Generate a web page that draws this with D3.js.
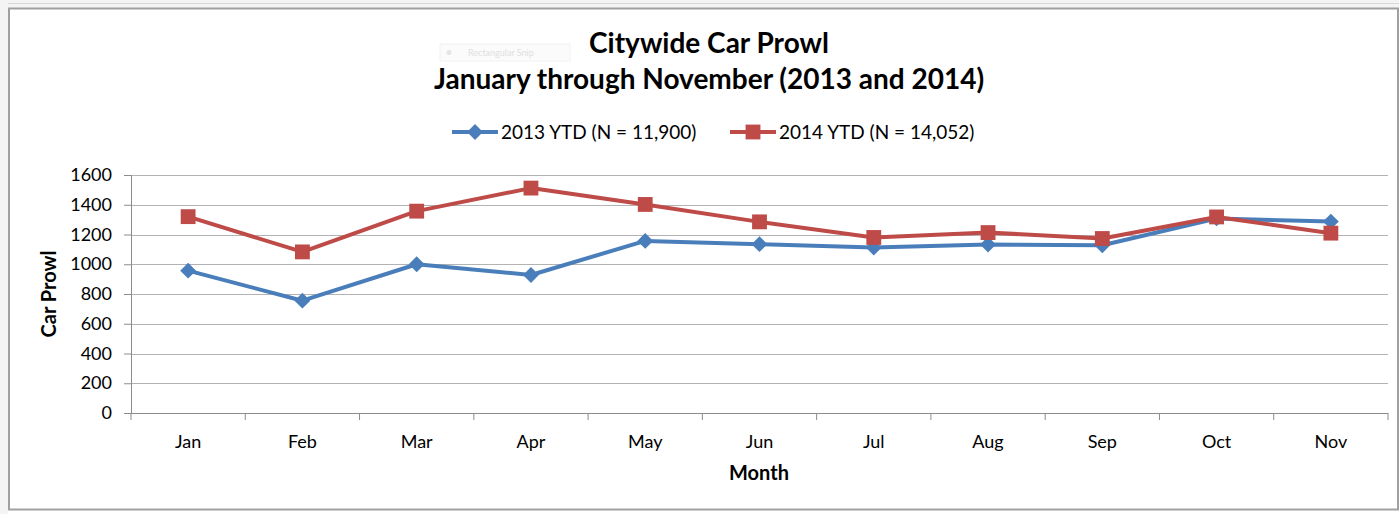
<!DOCTYPE html>
<html>
<head>
<meta charset="utf-8">
<script src="https://cdn.jsdelivr.net/npm/d3@7"></script>
<style>
  body { margin: 0; background: #fff; }
  svg { display: block; font-family: Lato, "Open Sans", sans-serif; }
</style>
</head>
<body>
<svg id="chart"></svg>
<script>
const months = ['Jan', 'Feb', 'Mar', 'Apr', 'May', 'Jun', 'Jul', 'Aug', 'Sep', 'Oct', 'Nov'];
const ytd2013 = [957, 755, 1000, 928, 1157, 1135, 1112, 1133, 1128, 1308, 1287];
const ytd2014 = [1320, 1083, 1357, 1512, 1402, 1285, 1180, 1213, 1173, 1318, 1209];
const yTicks = [0, 200, 400, 600, 800, 1000, 1200, 1400, 1600];
const seriesNames = ['2013 YTD (N = 11,900)', '2014 YTD (N = 14,052)'];

const width = 1399, height = 514;
const margin = { top: 175, right: 11, bottom: 101, left: 131 };
const innerWidth = width - margin.left - margin.right;
const innerHeight = height - margin.top - margin.bottom;

const svg = d3.select('#chart').attr('width', width).attr('height', height);

// excel sheet remnants + chart frame
svg.append('rect').attr('x', 0).attr('y', 0).attr('width', width).attr('height', 8).attr('fill', '#f4f4f4');
svg.append('line').attr('x1', 0).attr('x2', width).attr('y1', 3.5).attr('y2', 3.5).attr('stroke', '#d8d8d8');
svg.append('rect').attr('x', 0).attr('y', 0).attr('width', 8).attr('height', height).attr('fill', '#f4f4f4');
svg.append('rect')
  .attr('x', 9).attr('y', 8.5).attr('width', width - 10).attr('height', 501)
  .attr('fill', '#fff').attr('stroke', '#a0a0a0').attr('stroke-width', 2);

// faint snip tool ghost
svg.append('rect').attr('x', 440).attr('y', 44).attr('width', 130).attr('height', 17)
  .attr('fill', '#fbfbfb').attr('stroke', '#f2f2f2');
svg.append('circle').attr('cx', 449).attr('cy', 52.5).attr('r', 2.5).attr('fill', '#e4e4e4');
svg.append('text').attr('x', 468).attr('y', 56).attr('font-size', 9).attr('fill', '#e0e0e0').text('Rectangular Snip');

// titles
svg.append('text').attr('x', 709).attr('y', 53).attr('text-anchor', 'middle')
  .attr('font-size', 28).attr('font-weight', 'bold').attr('fill', '#000').text('Citywide Car Prowl');
svg.append('text').attr('x', 709).attr('y', 89).attr('text-anchor', 'middle')
  .attr('font-size', 28).attr('font-weight', 'bold').attr('fill', '#000').text('January through November (2013 and 2014)');

const x = d3.scaleBand().domain(months).range([margin.left, margin.left + innerWidth]);
const y = d3.scaleLinear().domain([0, 1600]).range([margin.top + innerHeight, margin.top]);

// gridlines
svg.append('g').selectAll('line').data(yTicks.filter(d => d > 0)).enter().append('line')
  .attr('x1', margin.left).attr('x2', margin.left + innerWidth)
  .attr('y1', d => Math.round(y(d)) + 0.5).attr('y2', d => Math.round(y(d)) + 0.5)
  .attr('stroke', '#b3b3b3').attr('stroke-width', 1.2);

// y axis: lines from d3 axis, labels drawn separately
const yAxis = svg.append('g').attr('transform', `translate(${margin.left},0)`)
  .call(d3.axisLeft(y).tickValues(yTicks).tickSize(7));
yAxis.selectAll('text').remove();
yAxis.selectAll('line, path').attr('stroke', '#8c8c8c');
svg.append('g').selectAll('text').data(yTicks).enter().append('text')
  .attr('x', margin.left - 19).attr('y', d => y(d) + 6)
  .attr('text-anchor', 'end').attr('font-size', 18).attr('fill', '#000')
  .text(d3.format('d'));

// x axis (ticks at category boundaries)
const xBase = margin.top + innerHeight;
svg.append('line').attr('x1', margin.left).attr('x2', margin.left + innerWidth)
  .attr('y1', xBase + 0.5).attr('y2', xBase + 0.5).attr('stroke', '#8c8c8c');
svg.append('g').selectAll('line').data(d3.range(months.length + 1)).enter().append('line')
  .attr('x1', i => margin.left + i * x.step()).attr('x2', i => margin.left + i * x.step())
  .attr('y1', xBase).attr('y2', xBase + 7).attr('stroke', '#8c8c8c');
svg.append('g').selectAll('text').data(months).enter().append('text')
  .attr('x', d => x(d) + x.bandwidth() / 2).attr('y', xBase + 35)
  .attr('text-anchor', 'middle').attr('font-size', 18).attr('fill', '#000').text(d => d);

// axis titles
svg.append('text').attr('x', 759).attr('y', 480).attr('text-anchor', 'middle')
  .attr('font-size', 20).attr('font-weight', 'bold').text('Month');
svg.append('text').attr('transform', 'translate(56,294) rotate(-90)').attr('text-anchor', 'middle')
  .attr('font-size', 20).attr('font-weight', 'bold').text('Car Prowl');

const colors = ['#4a7ebb', '#be4b48'];
const symbols = [d3.symbolDiamond2, d3.symbolSquare];
const symSizes = [160, 220];
const cx = d => x(d) + x.bandwidth() / 2;

[ytd2013, ytd2014].forEach((vals, s) => {
  const pts = months.map((m, i) => [cx(m), y(vals[i])]);
  svg.append('path').attr('d', d3.line()(pts))
    .attr('fill', 'none').attr('stroke', colors[s]).attr('stroke-width', 4).attr('stroke-linejoin', 'round');
  svg.selectAll('.m' + s).data(pts).enter().append('path')
    .attr('class', 'm' + s)
    .attr('d', d3.symbol().type(symbols[s]).size(symSizes[s])())
    .attr('transform', d => `translate(${d[0]},${d[1]})`)
    .attr('fill', colors[s]);
});

// legend
const legendX = [452, 730];
seriesNames.forEach((name, s) => {
  const lg = svg.append('g').attr('transform', `translate(${legendX[s]},132)`);
  lg.append('line').attr('x1', 0).attr('x2', 46).attr('stroke', colors[s]).attr('stroke-width', 4);
  lg.append('path').attr('d', d3.symbol().type(symbols[s]).size(symSizes[s])())
    .attr('transform', 'translate(23,0)').attr('fill', colors[s]);
  lg.append('text').attr('x', 49).attr('y', 7).attr('font-size', 19).attr('fill', '#000').text(name);
});
</script>
</body>
</html>
